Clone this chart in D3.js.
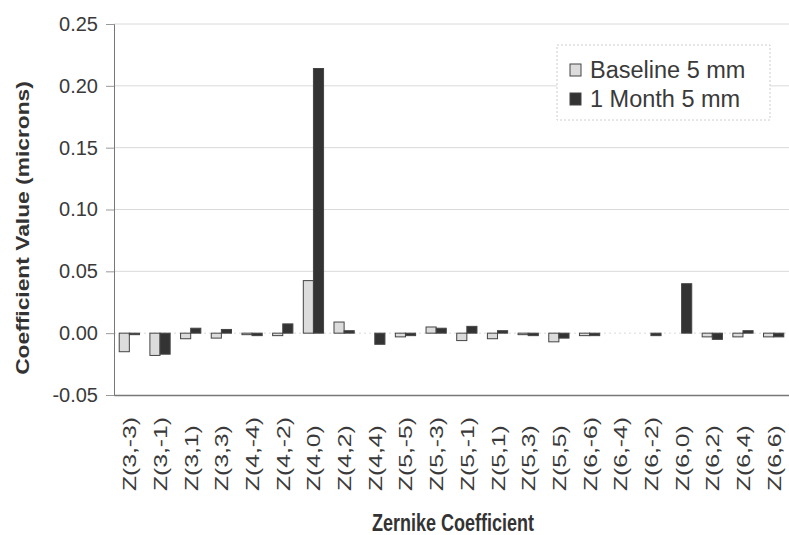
<!DOCTYPE html>
<html>
<head>
<meta charset="utf-8">
<script src="https://cdn.jsdelivr.net/npm/d3@7"></script>
<style>
  body { margin: 0; background: #fff; }
  text { font-family: "Liberation Sans", Arial, sans-serif; }
</style>
</head>
<body>
<div class="chart"></div>
<script>
const categories = ['Z(3,-3)', 'Z(3,-1)', 'Z(3,1)', 'Z(3,3)', 'Z(4,-4)', 'Z(4,-2)', 'Z(4,0)', 'Z(4,2)',
  'Z(4,4)', 'Z(5,-5)', 'Z(5,-3)', 'Z(5,-1)', 'Z(5,1)', 'Z(5,3)', 'Z(5,5)', 'Z(6,-6)', 'Z(6,-4)',
  'Z(6,-2)', 'Z(6,0)', 'Z(6,2)', 'Z(6,4)', 'Z(6,6)'];
const baseline = [-0.015, -0.018, -0.0045, -0.004, -0.001, -0.002, 0.0425, 0.009,
  0.0, -0.003, 0.005, -0.006, -0.0045, -0.001, -0.007, -0.002, 0.0,
  0.0, 0.0, -0.003, -0.003, -0.003];
const month1 = [-0.001, -0.017, 0.004, 0.003, -0.002, 0.0075, 0.214, 0.002,
  -0.009, -0.002, 0.004, 0.0055, 0.002, -0.002, -0.004, -0.002, 0.0,
  -0.002, 0.040, -0.005, 0.002, -0.003];
const yTicks = [-0.05, 0, 0.05, 0.10, 0.15, 0.20, 0.25];
const seriesNames = ['Baseline 5 mm', '1 Month 5 mm'];
const seriesColors = ['#dcdcdc', '#333333'];

var width = 789, height = 535;
var margin = { top: 24, right: 0, bottom: 140, left: 114 };

var svg = d3.select(".chart").append("svg")
  .attr("width", width).attr("height", height);

var x = d3.scaleBand().domain(categories)
  .range([margin.left, width - margin.right]).paddingInner(0.34).paddingOuter(0.17);
var xs = d3.scaleBand().domain([0, 1]).range([0, x.bandwidth()]);
var y = d3.scaleLinear().domain([-0.05, 0.25]).range([height - margin.bottom, margin.top]);

// gridlines
svg.append("g").selectAll("line").data(yTicks.filter(d => d > -0.05)).enter().append("line")
  .attr("x1", margin.left).attr("x2", width - margin.right)
  .attr("y1", d => y(d)).attr("y2", d => y(d))
  .attr("stroke", "#dadada").attr("stroke-width", 1)
  .attr("stroke-dasharray", d => d === 0 ? "2,3" : null);

// bars
var data = categories.map((c, i) => ({ cat: c, vals: [baseline[i], month1[i]] }));
var groups = svg.append("g").selectAll("g").data(data).enter().append("g")
  .attr("transform", d => `translate(${x(d.cat)},0)`);
groups.selectAll("rect").data(d => d.vals.map((v, k) => ({ v, k })).filter(d => d.v !== 0)).enter().append("rect")
  .attr("x", d => xs(d.k))
  .attr("width", xs.bandwidth())
  .attr("y", d => y(Math.max(0, d.v)))
  .attr("height", d => Math.max(1.5, Math.abs(y(d.v) - y(0))))
  .attr("fill", d => seriesColors[d.k])
  .attr("stroke", "#444").attr("stroke-width", 1);

// y axis
var yAxis = svg.append("g").attr("transform", `translate(${margin.left},0)`)
  .call(d3.axisLeft(y).tickValues(yTicks).tickFormat(d => d.toFixed(2)).tickSize(8).tickPadding(8));
yAxis.select(".domain").attr("stroke", "#777");
yAxis.selectAll(".tick line").attr("stroke", "#999");
yAxis.selectAll("text").style("font-size", "20px").attr("fill", "#3a3a3a");

// x axis
var xAxis = svg.append("g").attr("transform", `translate(0,${height - margin.bottom})`)
  .call(d3.axisBottom(x).tickSize(0).tickPadding(0));
xAxis.select(".domain").attr("stroke", "#777").attr("stroke-width", 1.5);
xAxis.selectAll("text")
  .style("font-size", "19px").attr("fill", "#3a3a3a")
  .attr("text-anchor", "start")
  .attr("y", 0).attr("dy", null)
  .attr("transform", "translate(7,96) rotate(-90) scale(1.3,1)");

// axis titles
svg.append("text")
  .attr("transform", `translate(29,${(80 + 376) / 2}) rotate(-90) scale(1.2,1)`)
  .attr("text-anchor", "middle")
  .style("font-size", "19px").style("font-weight", "bold").attr("fill", "#333")
  .text("Coefficient Value (microns)");
svg.append("text")
  .attr("transform", "translate(453,531) scale(1,1.28)")
  .attr("text-anchor", "middle")
  .style("font-size", "18px").style("font-weight", "bold").attr("fill", "#333")
  .text("Zernike Coefficient");

// legend
var legend = svg.append("g").attr("class", "legend");
legend.append("rect").attr("x", 557).attr("y", 45).attr("width", 213).attr("height", 75)
  .attr("fill", "#fff").attr("stroke", "#ccc").attr("stroke-dasharray", "2,2");
seriesNames.forEach((name, i) => {
  legend.append("rect").attr("x", 570).attr("y", 64 + i * 29).attr("width", 11).attr("height", 12)
    .attr("fill", seriesColors[i]).attr("stroke", "#444");
  legend.append("text").attr("x", 590).attr("y", 78 + i * 29)
    .text(name).style("font-size", "23.5px").attr("fill", "#3a3a3a");
});
</script>
</body>
</html>
